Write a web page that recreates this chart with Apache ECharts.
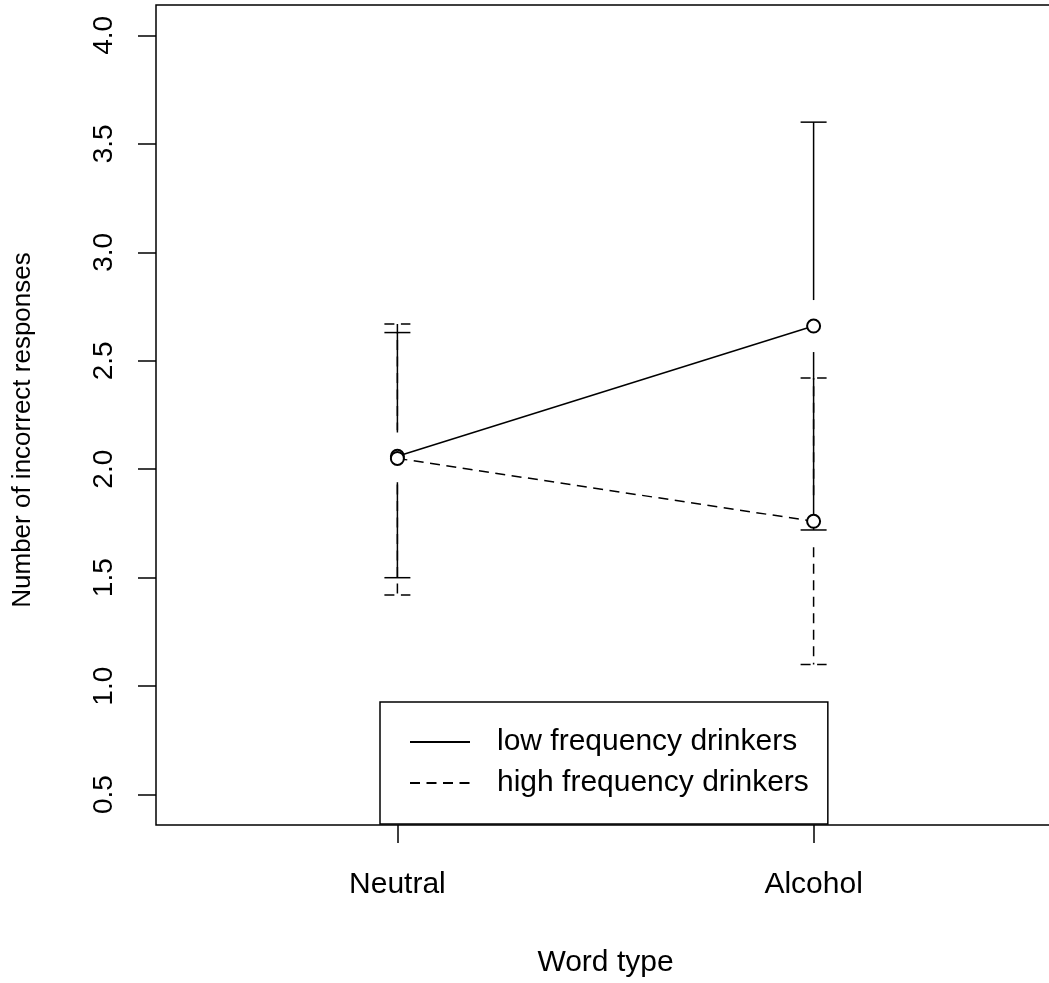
<!DOCTYPE html>
<html>
<head>
<meta charset="utf-8">
<script src="https://cdn.jsdelivr.net/npm/echarts@6/dist/echarts.min.js"></script>
<style>
html,body{margin:0;padding:0;background:#fff;}
#chart{width:1049px;height:983px;}
</style>
</head>
<body>
<div id="chart"></div>
<script>
// ---- data ----
var categories = ['Neutral', 'Alcohol'];
var seriesNames = ['low frequency drinkers', 'high frequency drinkers'];
var lowMean  = [2.06, 2.66];
var lowLower = [1.50, 1.72];
var lowUpper = [2.63, 3.60];
var highMean  = [2.05, 1.76];
var highLower = [1.42, 1.10];
var highUpper = [2.67, 2.42];
var yTicks = [0.5, 1.0, 1.5, 2.0, 2.5, 3.0, 3.5, 4.0];
var xTicks = [1, 2];

var FONT = "'Liberation Sans', Arial, sans-serif";
var chart = echarts.init(document.getElementById('chart'), null, {renderer: 'canvas'});

function pts(means) { return means.map(function (m, i) { return [i + 1, m]; }); }
function bars(lo, hi, mean) { return mean.map(function (m, i) { return [i + 1, lo[i], hi[i], m]; }); }

var GAP = 26, CAP = 13;
function errRender(dash) {
  return function (params, api) {
    var x = api.value(0);
    var pLo = api.coord([x, api.value(1)]);
    var pHi = api.coord([x, api.value(2)]);
    var pM = api.coord([x, api.value(3)]);
    var st = {stroke: '#000', lineWidth: 1.5, lineDash: dash};
    var ch = [];
    if (pHi[1] < pM[1] - GAP) ch.push({type: 'line', shape: {x1: pM[0], y1: pM[1] - GAP, x2: pM[0], y2: pHi[1]}, style: st});
    if (pLo[1] > pM[1] + GAP) ch.push({type: 'line', shape: {x1: pM[0], y1: pM[1] + GAP, x2: pM[0], y2: pLo[1]}, style: st});
    ch.push({type: 'line', shape: {x1: pHi[0] - CAP, y1: pHi[1], x2: pHi[0] + CAP, y2: pHi[1]}, style: st});
    ch.push({type: 'line', shape: {x1: pLo[0] - CAP, y1: pLo[1], x2: pLo[0] + CAP, y2: pLo[1]}, style: st});
    return {type: 'group', children: ch};
  };
}

var DASH = [10, 6.5];
var option = {
  backgroundColor: '#fff',
  animation: false,
  grid: {left: 156, top: 5, width: 899, height: 820, outerBoundsMode: 'none', containLabel: false,
    show: true, borderColor: '#000', borderWidth: 1.5, backgroundColor: 'transparent'},
  xAxis: {
    type: 'value', min: 0.42, max: 2.58,
    name: 'Word type', nameLocation: 'middle', nameGap: 123,
    nameTextStyle: {fontFamily: FONT, fontSize: 30, color: '#000'},
    axisLine: {show: false},
    splitLine: {show: false},
    axisTick: {show: true, inside: false, length: 18, customValues: xTicks, lineStyle: {color: '#000', width: 1.5}},
    axisLabel: {customValues: xTicks, margin: 45, fontFamily: FONT, fontSize: 30, color: '#000',
      formatter: function (v) { return categories[Math.round(v) - 1] || ''; }}
  },
  yAxis: {
    type: 'value', min: 0.36, max: 4.14,
    axisLine: {show: false},
    splitLine: {show: false},
    axisTick: {show: true, inside: false, length: 18, customValues: yTicks, lineStyle: {color: '#000', width: 1.5}},
    axisLabel: {customValues: yTicks, rotate: 90, margin: 38, fontFamily: FONT, fontSize: 28, color: '#000',
      formatter: function (v) { return v.toFixed(1); }}
  },
  legend: {
    show: true, orient: 'vertical', left: 380, top: 702,
    padding: [23, 19, 24, 29],
    backgroundColor: '#fff', borderColor: '#000', borderWidth: 1.5,
    itemWidth: 60, itemHeight: 20, itemGap: 7,
    itemStyle: {opacity: 0},
    textStyle: {fontFamily: FONT, fontSize: 30, lineHeight: 34, color: '#000', padding: [0, 0, 0, 22]},
    data: seriesNames
  },
  graphic: [{
    type: 'text', x: 23, y: 430, rotation: Math.PI / 2,
    style: {text: 'Number of incorrect responses', fontFamily: FONT, fontSize: 26, fill: '#000', textAlign: 'center', textVerticalAlign: 'middle'}
  }],
  series: [
    {name: seriesNames[0], type: 'line', data: pts(lowMean), symbol: 'emptyCircle', symbolSize: 13,
      itemStyle: {color: '#000', borderWidth: 1.5},
      lineStyle: {color: '#000', width: 1.5, type: 'solid'}, z: 3},
    {name: seriesNames[1], type: 'line', data: pts(highMean), symbol: 'emptyCircle', symbolSize: 13,
      itemStyle: {color: '#000', borderWidth: 1.5},
      lineStyle: {color: '#000', width: 1.5, type: DASH}, z: 3},
    {name: 'lowErr', type: 'custom', data: bars(lowLower, lowUpper, lowMean), renderItem: errRender(null), z: 2},
    {name: 'highErr', type: 'custom', data: bars(highLower, highUpper, highMean), renderItem: errRender(DASH), z: 2}
  ]
};
chart.setOption(option);
</script>
</body>
</html>
